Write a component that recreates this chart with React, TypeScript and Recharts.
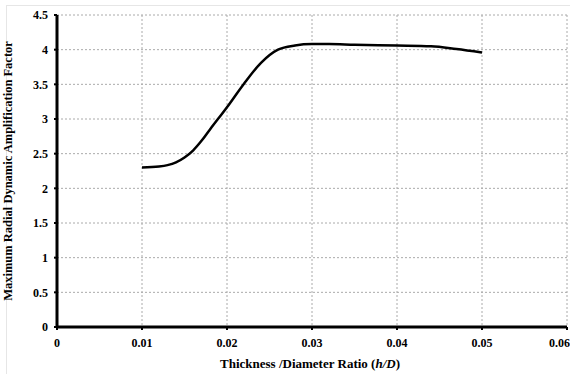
import { LineChart, Line, XAxis, YAxis, CartesianGrid } from "recharts";

const ratio = [0.01, 0.012, 0.013, 0.014, 0.015, 0.016, 0.017, 0.018, 0.02, 0.022, 0.024, 0.026, 0.028, 0.03, 0.032, 0.035, 0.04, 0.044, 0.047, 0.05];
const factor = [2.3, 2.315, 2.335, 2.375, 2.445, 2.545, 2.685, 2.85, 3.17, 3.51, 3.81, 4.0, 4.06, 4.08, 4.08, 4.07, 4.06, 4.05, 4.01, 3.96];
const xTicks = [0, 0.01, 0.02, 0.03, 0.04, 0.05, 0.06];
const yTicks = [0, 0.5, 1, 1.5, 2, 2.5, 3, 3.5, 4, 4.5];

const data = ratio.map((r, i) => ({ r, v: factor[i] }));

const font = "'Liberation Serif', 'Times New Roman', serif";

export default function App() {
  return (
    <div style={{ position: "absolute", left: 0, top: 0, width: 570, height: 374, background: "#fff" }}>
      <div style={{ position: "absolute", left: 6, top: 5, width: 570, height: 380, border: "1px solid #e6e6e6" }} />
      <LineChart width={570} height={374} data={data} margin={{ top: 15, right: 3, left: 10, bottom: 4 }}>
        <CartesianGrid stroke="#aaa" strokeDasharray="2 2" strokeWidth={1} />
        <XAxis
          dataKey="r"
          type="number"
          domain={[0, 0.06]}
          ticks={xTicks}
          tickFormatter={(v: number) => String(v)}
          axisLine={{ stroke: "#000", strokeWidth: 3 }}
          tickLine={{ stroke: "#000", strokeWidth: 2 }}
          tickSize={3}
          tickMargin={8}
          tick={{ fill: "#000", fontSize: 12, fontWeight: "bold", fontFamily: font }}
          height={43}
          label={(props: any) => {
            const { viewBox } = props;
            const cx = viewBox.x + viewBox.width / 2;
            return (
              <text x={cx - 2} y={viewBox.y + 41} textAnchor="middle" fill="#000" fontSize={13} fontWeight="bold" fontFamily={font}>
                Thickness /Diameter Ratio (<tspan fontStyle="italic">h/D</tspan>)
              </text>
            );
          }}
        />
        <YAxis
          type="number"
          domain={[0, 4.5]}
          ticks={yTicks}
          axisLine={{ stroke: "#000", strokeWidth: 3 }}
          tickLine={{ stroke: "#000", strokeWidth: 2 }}
          tickSize={3}
          tickMargin={6}
          tick={{ fill: "#000", fontSize: 12, fontWeight: "bold", fontFamily: font }}
          width={47}
          label={{
            value: "Maximum Radial Dynamic Amplification Factor",
            angle: -90,
            position: "insideLeft",
            offset: -2,
            dx: 0,
            style: { textAnchor: "middle", fill: "#000", fontSize: 12.5, fontWeight: "bold", fontFamily: font },
          }}
        />
        <Line
          type="monotone"
          dataKey="v"
          stroke="#000"
          strokeWidth={2.5}
          dot={false}
          isAnimationActive={false}
        />
      </LineChart>
    </div>
  );
}
